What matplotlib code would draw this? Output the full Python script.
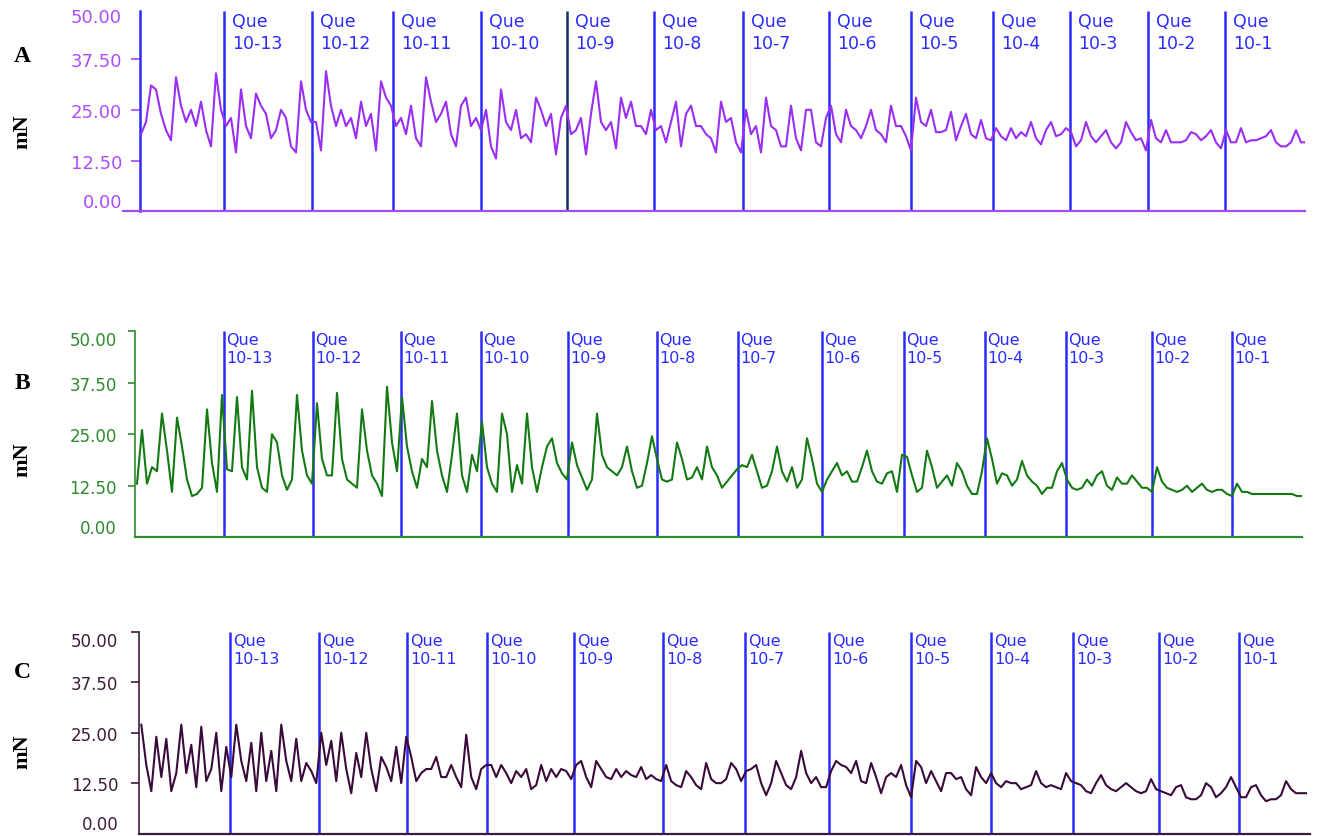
import numpy as np
import matplotlib
matplotlib.use('Agg')
import matplotlib.pyplot as plt

# sampling step of the recordings (s)
dt = 5

force_a = [19, 22, 31, 30, 24, 20, 17.5, 33, 26, 22,
           25, 21, 27, 20, 16, 34, 25, 21, 23, 14.5,
           30, 21, 18, 29, 26, 24, 18, 20, 25, 23,
           16, 14.5, 32, 25, 22, 22, 15, 34.5, 26, 21,
           25, 21, 23, 18, 27, 21, 24, 15, 32, 28,
           26, 21, 23, 19, 26, 18, 16, 33, 27, 22,
           24, 27, 19, 16, 26, 28, 21, 23, 20, 25,
           16, 13, 30, 22, 20, 25, 18, 19, 17, 28,
           25, 21, 24, 14, 23, 26, 19, 20, 23, 14,
           24, 32, 22, 20, 22, 15.5, 28, 23, 27, 21,
           21, 19, 25, 20, 21, 17, 22, 27, 16, 24,
           26, 21, 21, 19, 18, 14.5, 27, 22, 23, 17,
           14.5, 25, 19, 21, 14.5, 28, 21, 20, 16, 16,
           26, 18, 15, 25, 25, 17, 16, 23, 26, 19,
           17, 25, 21, 20, 18, 21, 25, 20, 19, 17,
           26, 21, 21, 18.5, 15, 28, 22, 21, 25, 19.5,
           19.5, 20, 24.5, 17.5, 21, 24, 19, 18, 22.5, 18,
           17.5, 20.5, 18.5, 17.5, 20.5, 18, 19.5, 18.5, 22, 18,
           16.5, 20, 22, 18.5, 19, 20.5, 19.5, 16, 17.5, 22,
           18.5, 17, 18.5, 20, 17, 15.5, 17, 22, 19.5, 17.5,
           18, 15, 22.5, 18, 17, 20, 17, 17, 17, 17.5,
           19.5, 19, 17.5, 18.5, 20, 17, 15.5, 20, 17, 17,
           20.5, 17, 17.5, 17.5, 18, 18.5, 20, 17, 16, 16,
           17, 20, 17, 17]

force_b = [13, 26, 13, 17, 16, 30, 21, 11, 29, 22,
           14, 10, 10.5, 12, 31, 18, 11, 34.5, 16.5, 16,
           34, 17, 14, 35.5, 17, 12, 11, 25, 23, 15,
           11.5, 14, 34.5, 21, 15, 13, 32.5, 19, 15, 15,
           35, 19, 14, 13, 12, 31, 21, 15, 13, 10,
           36.5, 23, 16, 34, 22, 16, 12, 19, 17, 33,
           21, 15, 11, 20, 30, 15, 11, 20, 16, 28,
           17, 13, 11, 30, 25, 11, 17.5, 13, 30, 17,
           11, 17, 22, 24, 18, 15.5, 14, 23, 17.5, 14.5,
           11.5, 14, 30, 20, 17, 16, 15, 17, 22, 16,
           12, 12.5, 18, 24.5, 19, 14, 13.5, 14, 23, 19,
           14, 14.5, 17, 14, 22, 17, 15, 12, 13.5, 15,
           16.5, 17.5, 17, 20, 16, 12, 12.5, 16, 22, 16,
           13.5, 17, 12, 14, 24, 19, 13, 11, 14, 16,
           18, 15, 16, 13.5, 13.5, 17, 21, 16, 13.5, 13,
           15.5, 16, 11, 20, 19.5, 15, 11, 12, 21, 17,
           12, 13.5, 15, 12.5, 18, 16, 12.5, 10.5, 10.5, 16,
           24, 19, 13, 15.5, 15, 12.5, 14, 18.5, 15, 13.5,
           12.5, 10.5, 12, 12, 16, 18, 14, 12, 11.5, 12,
           14, 12.5, 15, 16, 12.5, 11.5, 14.5, 13, 13, 15,
           13.5, 12, 12, 11, 17, 13.5, 12, 11.5, 11, 11.5,
           12.5, 11, 12, 13, 11.5, 11, 11.5, 11.5, 10.5, 10,
           13, 11, 11, 10.5, 10.5, 10.5, 10.5, 10.5, 10.5, 10.5,
           10.5, 10.5, 10, 10]

force_c = [27, 17, 10.5, 24, 14, 23.5, 10.5, 15, 27, 15,
           22, 11.5, 26.5, 13, 16, 25, 10.5, 21.5, 14, 27,
           18, 13, 22.5, 10.5, 25, 13, 20.5, 10.5, 27, 18,
           13, 23.5, 13, 17.5, 15.5, 12.5, 25, 17, 23, 13,
           25, 16, 10, 20, 14, 25, 16, 10.5, 19, 16.5,
           13, 21.5, 12.5, 24, 19, 13, 15, 16, 16, 19,
           14, 14, 17, 14, 11.5, 24.5, 14, 11, 16, 17,
           17, 14, 17, 15, 12.5, 15.5, 14, 16, 11, 12,
           17, 13, 16, 14, 16, 15.5, 13.5, 17, 18, 14,
           11.5, 18, 16, 14, 13.5, 16, 14, 15.5, 14.5, 14,
           16.5, 13.5, 14.5, 13.5, 13, 17, 13, 12, 11.5, 15.5,
           14, 12, 11, 17.5, 13.5, 12.5, 12.5, 13.5, 17.5, 16,
           13, 15.5, 16, 17, 12.5, 9.5, 12.5, 18, 15, 12,
           11, 14, 20.5, 15, 12.5, 14, 11.5, 11.5, 15.5, 18,
           17, 16.5, 15, 18, 13, 12.5, 17.5, 14, 10, 14,
           15, 14, 17, 12, 9, 18, 16.5, 12.5, 15.5, 13,
           10.5, 15, 15, 13.5, 14, 11, 9.5, 16.5, 14, 12.5,
           15, 12.5, 11.5, 13, 12.5, 12.5, 11, 11.5, 12, 15.5,
           12.5, 11.5, 12, 11.5, 11, 15, 13, 12.5, 12, 10.5,
           10, 12.5, 14.5, 12, 11, 10.5, 11.5, 12.5, 11.5, 10.5,
           10, 10.5, 13.5, 11, 10.5, 10, 9.5, 11.5, 12, 9,
           8.5, 8.5, 9.5, 12.5, 11.5, 9, 10, 11.5, 14, 11.5,
           9, 9, 11.5, 12, 9.5, 8, 8.5, 8.5, 9.5, 13,
           11, 10, 10, 10]

# quercetin additions (s), one set per recording
que_labels = ['Que\n10-13', 'Que\n10-12', 'Que\n10-11', 'Que\n10-10', 'Que\n10-9',
              'Que\n10-8', 'Que\n10-7', 'Que\n10-6', 'Que\n10-5', 'Que\n10-4',
              'Que\n10-3', 'Que\n10-2', 'Que\n10-1']
que_a = [83, 171, 252, 340, 426, 513, 602, 688, 770, 852, 929, 1007, 1084]
que_b = [87, 176, 264, 344, 431, 520, 601, 685, 767, 848, 929, 1015, 1095]
que_c = [89, 178, 266, 346, 433, 522, 604, 688, 770, 850, 932, 1018, 1098]

yticks = [0, 12.5, 25, 37.5, 50]
ytick_labels = ['0.00', '12.50', '25.00', '37.50', '50.00']

W, H = 1319, 837
blue = '#2b2bff'


def px_box(left, right, top, bottom):
    return [left / W, 1 - bottom / H, (right - left) / W, (bottom - top) / H]


def draw_panel(fig, box, xlim, force, que, letter, letter_y, mn_y,
               trace_col, axis_col, label_col, fsize, tick_len, tick_pad,
               line_top, text_dx, left_blue=False, que_cols=None):
    ax = fig.add_axes(box)
    t = np.arange(len(force)) * dt
    ax.plot(t, force, color=trace_col, lw=1.5, zorder=3)
    ax.vlines(que, 0, line_top, colors=que_cols or blue, lw=1.8, zorder=2)
    for x, lab in zip(que, que_labels):
        ax.text(x + text_dx, line_top - 0.3, lab, color=blue, fontsize=fsize - 0.5,
                va='top', ha='left', linespacing=1.25)
    ax.set_xlim(*xlim)
    ax.set_ylim(0, 50)
    ax.set_xticks([])
    ax.set_yticks(yticks, ytick_labels)
    ax.tick_params(axis='y', direction='out', length=tick_len, width=1.2,
                   pad=tick_pad, colors=axis_col, labelcolor=label_col,
                   labelsize=fsize)
    labs = ax.get_yticklabels()
    labs[0].set_va('bottom')
    labs[-1].set_va('top')
    ax.yaxis.get_major_ticks()[0].tick1line.set_visible(False)
    for s in ['top', 'right']:
        ax.spines[s].set_visible(False)
    ax.spines['bottom'].set_color(axis_col)
    ax.spines['bottom'].set_linewidth(1.6)
    if left_blue:
        ax.spines['left'].set_color(blue)
        ax.spines['left'].set_linewidth(1.8)
        ax.spines['left'].set_bounds(0, line_top)
        ax.yaxis.get_major_ticks()[-1].tick1line.set_visible(False)
    else:
        ax.spines['left'].set_color(axis_col)
        ax.spines['left'].set_linewidth(1.2)
    ax.patch.set_alpha(0)
    fig.text(22 / W, 1 - letter_y / H, letter, fontsize=17, fontweight='bold',
             family='Liberation Serif', ha='center', va='center')
    fig.text(22 / W, 1 - mn_y / H, 'mN', fontsize=16, fontweight='bold',
             family='Liberation Serif', ha='center', va='center', rotation=90)
    return ax


fig = plt.figure(figsize=(W / 100, H / 100), dpi=100)

cols_a = [blue] * len(que_a)
cols_a[4] = '#12306a'
ax_a = draw_panel(fig, px_box(140, 1305, 9.2, 212.4), (-1, 1164), force_a, que_a,
                  'A', 57, 132, '#9a2ef2', '#a24cf4', '#b04cff', 13, 6.5, 6.5,
                  49.3, 8, left_blue=True, que_cols=cols_a)
ax_a.spines['bottom'].set_bounds(-18, 1164)

ax_b = draw_panel(fig, px_box(135, 1302, 332, 538.3), (-2, 1165), force_b, que_b,
                  'B', 384, 460, '#137a13', '#2e8b2e', '#2e8b2e', 12, 5, 8,
                  50, 2)

ax_c = draw_panel(fig, px_box(139.3, 1310, 633, 834.5), (-2, 1169), force_c, que_c,
                  'C', 672, 752, '#3a0a3a', '#3c1c3c', '#3c1c3c', 12, 5.5, 9.6,
                  50, 3)

fig.savefig('out.png', dpi=100)
